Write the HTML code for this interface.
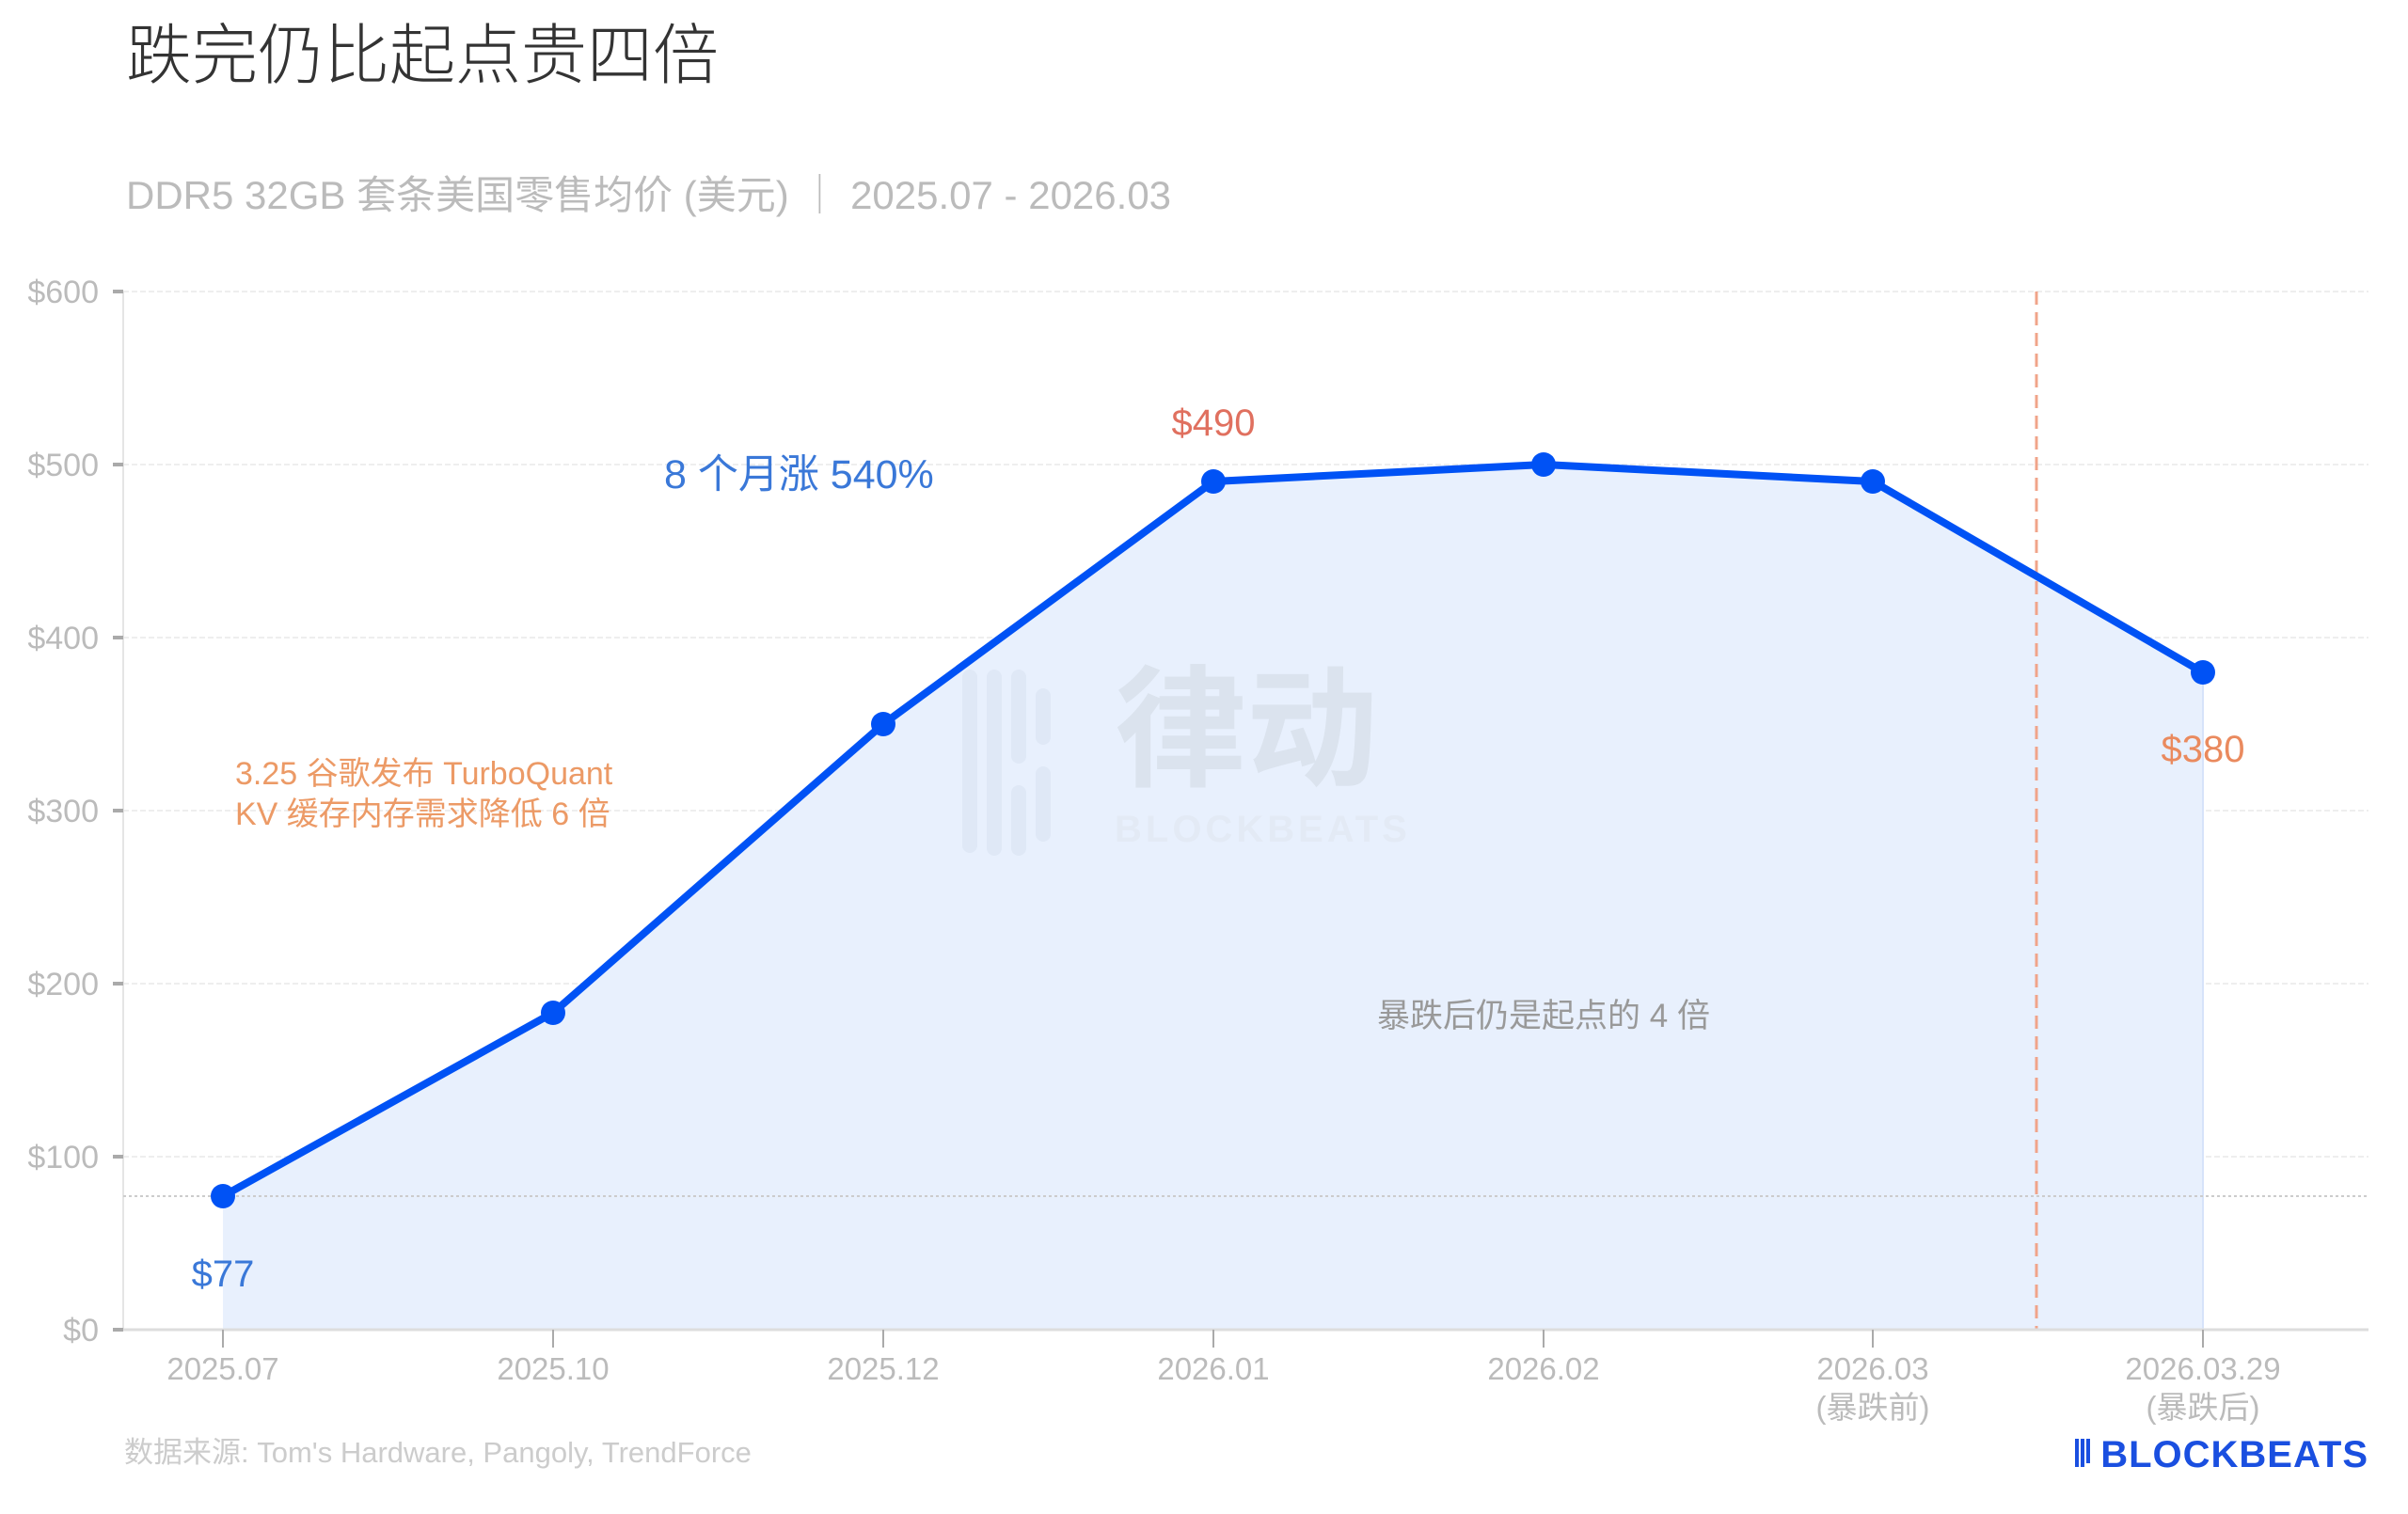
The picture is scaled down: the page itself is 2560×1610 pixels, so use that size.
<!DOCTYPE html>
<html><head><meta charset="utf-8"><style>
html,body{margin:0;padding:0;background:#fff}
svg{display:block}
text{font-family:"Liberation Sans","Noto Sans CJK SC",sans-serif}
</style></head><body>
<svg width="2560" height="1610" viewBox="0 0 2560 1610" xmlns="http://www.w3.org/2000/svg">
<rect width="2560" height="1610" fill="#fff"/>
<text x="134" y="83" font-size="70" fill="#333" font-weight="300">跌完仍比起点贵四倍</text>
<text x="134" y="222" font-size="42" fill="#bbb">DDR5 32GB 套条美国零售均价 (美元) ｜ 2025.07 - 2026.03</text>
<g stroke="#eee" stroke-width="2" stroke-dasharray="6,3">
<line x1="131" y1="310" x2="2518" y2="310"/><line x1="131" y1="494" x2="2518" y2="494"/>
<line x1="131" y1="678" x2="2518" y2="678"/><line x1="131" y1="862" x2="2518" y2="862"/>
<line x1="131" y1="1046" x2="2518" y2="1046"/><line x1="131" y1="1230" x2="2518" y2="1230"/>
</g>
<line x1="131" y1="310" x2="131" y2="1414" stroke="#e5e5e5" stroke-width="2"/>
<g fill="#bbb" font-size="34" text-anchor="end">
<text x="105" y="322">$600</text><text x="105" y="506">$500</text><text x="105" y="690">$400</text>
<text x="105" y="874">$300</text><text x="105" y="1058">$200</text><text x="105" y="1242">$100</text><text x="105" y="1426">$0</text>
</g>
<g stroke="#aaa" stroke-width="4"><line x1="120" y1="310" x2="131" y2="310"/><line x1="120" y1="494" x2="131" y2="494"/><line x1="120" y1="678" x2="131" y2="678"/><line x1="120" y1="862" x2="131" y2="862"/><line x1="120" y1="1046" x2="131" y2="1046"/><line x1="120" y1="1230" x2="131" y2="1230"/><line x1="120" y1="1414" x2="131" y2="1414"/></g>
<polygon points="237,1272 588,1077 939,770 1290,512 1641,494 1991,512 2342,715 2342,1414 237,1414" fill="#e8f0fd"/>
<line x1="2342" y1="715" x2="2342" y2="1414" stroke="#d6e3fa" stroke-width="2"/>
<g opacity="0.55" fill="#d8e2f2">
<rect x="1023" y="712" width="16" height="195" rx="8"/><rect x="1049" y="712" width="16" height="180" rx="8"/><rect x="1075" y="712" width="16" height="100" rx="8"/><rect x="1101" y="732" width="16" height="60" rx="8"/>
<rect x="1049" y="855" width="16" height="55" rx="8"/><rect x="1075" y="835" width="16" height="75" rx="8"/><rect x="1101" y="815" width="16" height="80" rx="8"/>
</g>
<text x="1185" y="825" font-size="140" font-weight="bold" fill="#dbe3ee">律动</text>
<text x="1185" y="895" font-size="40" font-weight="bold" fill="#e3eaf5" letter-spacing="4">BLOCKBEATS</text>
<line x1="131" y1="1272" x2="2518" y2="1272" stroke="#ccc" stroke-width="2" stroke-dasharray="3,3"/>
<line x1="2165" y1="310" x2="2165" y2="1414" stroke="#f0a48a" stroke-width="3" stroke-dasharray="14,8"/>
<line x1="131" y1="1414" x2="2518" y2="1414" stroke="#ddd" stroke-width="3"/>
<g stroke="#aaa" stroke-width="2"><line x1="237" y1="1414" x2="237" y2="1433"/><line x1="588" y1="1414" x2="588" y2="1433"/><line x1="939" y1="1414" x2="939" y2="1433"/><line x1="1290" y1="1414" x2="1290" y2="1433"/><line x1="1641" y1="1414" x2="1641" y2="1433"/><line x1="1991" y1="1414" x2="1991" y2="1433"/><line x1="2342" y1="1414" x2="2342" y2="1433"/></g>
<polyline points="237,1272 588,1077 939,770 1290,512 1641,494 1991,512 2342,715" fill="none" stroke="#0052f5" stroke-width="8" stroke-linejoin="round"/>
<g fill="#0052f5"><circle cx="237" cy="1272" r="13"/><circle cx="588" cy="1077" r="13"/><circle cx="939" cy="770" r="13"/><circle cx="1290" cy="512" r="13"/><circle cx="1641" cy="494" r="13"/><circle cx="1991" cy="512" r="13"/><circle cx="2342" cy="715" r="13"/></g>
<g fill="#bbb" font-size="33" text-anchor="middle">
<text x="237" y="1467">2025.07</text><text x="588" y="1467">2025.10</text><text x="939" y="1467">2025.12</text>
<text x="1290" y="1467">2026.01</text><text x="1641" y="1467">2026.02</text><text x="1991" y="1467">2026.03</text>
<text x="1991" y="1508">(暴跌前)</text><text x="2342" y="1467">2026.03.29</text><text x="2342" y="1508">(暴跌后)</text>
</g>
<text x="706" y="519" font-size="43" fill="#3a78d8">8 个月涨 540%</text>
<text x="1290" y="463" font-size="40" fill="#e0705f" text-anchor="middle">$490</text>
<text x="2342" y="810" font-size="40" fill="#ea8a5e" text-anchor="middle">$380</text>
<text x="237" y="1368" font-size="40" fill="#3a78d8" text-anchor="middle">$77</text>
<text x="250" y="834" font-size="34" fill="#ec9a66">3.25 谷歌发布 TurboQuant</text>
<text x="250" y="877" font-size="34" fill="#ec9a66">KV 缓存内存需求降低 6 倍</text>
<text x="1641" y="1092" font-size="35" fill="#999" text-anchor="middle">暴跌后仍是起点的 4 倍</text>
<text x="132" y="1555" font-size="31" fill="#ccc">数据来源: Tom's Hardware, Pangoly, TrendForce</text>
<g fill="#1a4fe0"><rect x="2206" y="1530" width="4" height="30"/><rect x="2212" y="1530" width="4" height="30"/><rect x="2218" y="1530" width="4" height="26"/></g>
<text x="2518" y="1560" font-size="40" font-weight="bold" fill="#1a4fe0" text-anchor="end" letter-spacing="1">BLOCKBEATS</text>
</svg>
</body></html>
